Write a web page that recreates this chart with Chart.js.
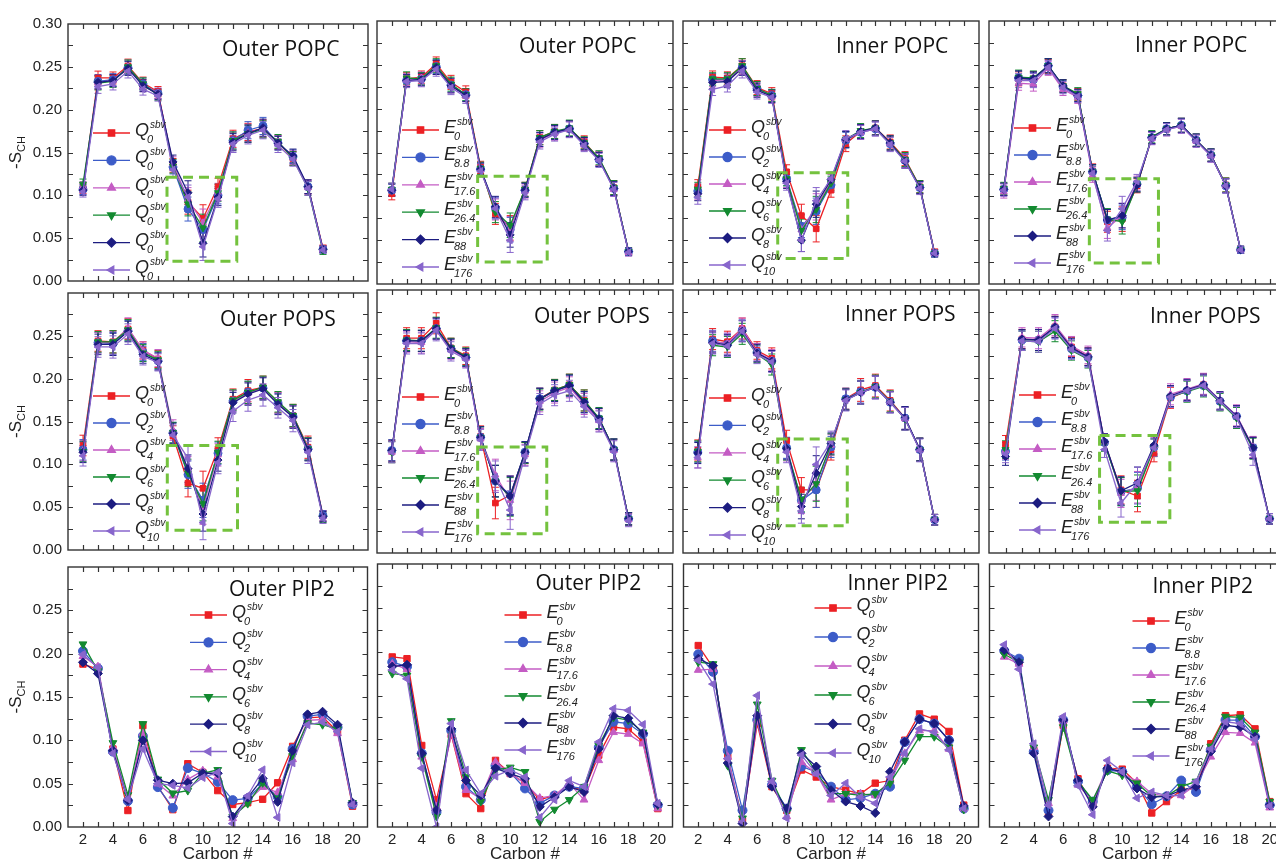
<!DOCTYPE html>
<html>
<head>
<meta charset="utf-8">
<title>Order parameters</title>
<script src="https://cdn.jsdelivr.net/npm/chart.js@4.4.1/dist/chart.umd.min.js"></script>
<style>
  html, body { margin: 0; padding: 0; background: #fff; }
  #wrap { position: relative; width: 1276px; height: 864px; overflow: hidden; background: #fff; }
  #wrap canvas { position: absolute; }
</style>
</head>
<body>
<div id="wrap"></div>
<script>
// x values (carbon numbers)
const carbonsPO = [2, 3, 4, 5, 6, 7, 8, 9, 10, 11, 12, 13, 14, 15, 16, 17, 18];
const carbonsPIP2 = [2, 3, 4, 5, 6, 7, 8, 9, 10, 11, 12, 13, 14, 15, 16, 17, 18, 19, 20];
const xTickMarks = [2, 3, 4, 5, 6, 7, 8, 9, 10, 11, 12, 13, 14, 15, 16, 17, 18, 19, 20];
const yTickMarks = [0.025, 0.05, 0.075, 0.1, 0.125, 0.15, 0.175, 0.2, 0.225, 0.25, 0.275];

// legend subscripts
const subsQFirst = ['0', '0', '0', '0', '0', '0'];   // the first panel labels all six like this
const subsQ = ['0', '2', '4', '6', '8', '10'];
const subsE = ['0', '8.8', '17.6', '26.4', '88', '176'];

// -S_CH, one row per series: red, blue, magenta, green, navy, purple
const outerPopcQ = [
  [.108, .237, .237, .251, .231, .221, .135, .092, .073, .110, .166, .174, .178, .162, .143, .110, .038],
  [.107, .233, .235, .249, .230, .219, .133, .084, .060, .100, .164, .176, .181, .161, .145, .110, .037],
  [.110, .232, .234, .250, .228, .219, .137, .095, .068, .104, .163, .173, .178, .162, .144, .109, .037],
  [.113, .231, .233, .250, .230, .217, .134, .090, .062, .103, .164, .172, .177, .163, .143, .108, .035],
  [.106, .232, .234, .248, .228, .218, .139, .103, .044, .098, .162, .172, .179, .161, .146, .110, .037],
  [.104, .227, .230, .245, .224, .216, .130, .098, .040, .096, .160, .170, .176, .158, .142, .108, .036]
];
const outerPopcQErr = [.006, .008, .007, .008, .007, .006, .008, .014, .016, .010, .010, .010, .010, .008, .008, .008, .004];

const outerPopcE = [
  [.103, .234, .236, .251, .230, .219, .133, .080, .064, .108, .167, .174, .177, .162, .143, .110, .037],
  [.107, .232, .234, .248, .227, .216, .131, .087, .062, .107, .165, .173, .177, .160, .142, .109, .037],
  [.108, .233, .235, .247, .226, .215, .130, .085, .063, .106, .164, .172, .176, .159, .143, .108, .036],
  [.108, .235, .234, .249, .228, .216, .132, .082, .067, .108, .167, .174, .178, .161, .144, .110, .037],
  [.107, .232, .233, .247, .226, .215, .131, .088, .056, .107, .165, .173, .177, .160, .142, .109, .037],
  [.108, .231, .232, .245, .224, .213, .129, .086, .050, .104, .162, .171, .176, .158, .141, .108, .036]
];
const outerPopcEErr = [.007, .007, .007, .008, .008, .007, .007, .012, .014, .008, .008, .008, .009, .007, .008, .008, .004];

const innerPopcQ = [
  [.111, .236, .235, .249, .224, .217, .128, .078, .063, .107, .160, .174, .178, .162, .143, .111, .036],
  [.106, .233, .233, .247, .223, .215, .120, .066, .083, .113, .164, .173, .177, .160, .141, .110, .035],
  [.104, .232, .233, .247, .222, .214, .118, .062, .088, .117, .165, .173, .177, .160, .141, .110, .035],
  [.108, .234, .234, .249, .223, .215, .120, .061, .085, .115, .165, .175, .178, .161, .142, .111, .035],
  [.103, .230, .231, .246, .221, .214, .117, .050, .091, .119, .165, .174, .178, .161, .140, .110, .035],
  [.099, .222, .226, .243, .219, .213, .115, .050, .095, .120, .166, .173, .177, .159, .140, .109, .035]
];
const innerPopcQErr = [.008, .007, .007, .008, .008, .007, .008, .013, .015, .008, .009, .008, .008, .008, .008, .007, .004];

const innerPopcE = [
  [.108, .234, .234, .248, .226, .216, .129, .071, .074, .112, .167, .177, .181, .164, .147, .113, .039],
  [.108, .235, .233, .249, .225, .215, .128, .073, .076, .114, .167, .177, .181, .164, .147, .112, .039],
  [.105, .229, .228, .246, .222, .213, .124, .064, .078, .115, .166, .176, .180, .163, .146, .112, .039],
  [.109, .236, .235, .249, .226, .217, .128, .074, .071, .113, .168, .177, .181, .164, .147, .113, .039],
  [.108, .235, .234, .249, .226, .215, .128, .073, .078, .113, .167, .177, .181, .164, .147, .112, .039],
  [.107, .232, .232, .247, .224, .214, .126, .061, .086, .117, .166, .176, .180, .163, .146, .112, .039]
];
const innerPopcEErr = [.007, .008, .008, .008, .007, .007, .008, .012, .014, .008, .007, .007, .008, .007, .007, .008, .004];

const outerPopsQ = [
  [.122, .244, .243, .258, .233, .223, .133, .078, .072, .118, .176, .186, .190, .172, .157, .120, .040],
  [.117, .242, .241, .256, .231, .221, .137, .088, .058, .113, .174, .184, .189, .171, .156, .118, .040],
  [.116, .242, .242, .259, .233, .224, .140, .093, .050, .111, .174, .183, .189, .172, .156, .118, .039],
  [.115, .243, .243, .257, .230, .222, .137, .090, .054, .114, .175, .184, .190, .173, .157, .118, .038],
  [.114, .240, .240, .255, .228, .220, .136, .095, .042, .105, .172, .182, .188, .170, .155, .117, .039],
  [.110, .237, .237, .252, .226, .219, .134, .107, .032, .102, .162, .175, .181, .166, .151, .114, .037]
];
const outerPopsQErr = [.012, .012, .013, .012, .010, .010, .012, .016, .020, .013, .012, .013, .013, .012, .013, .013, .006];

const outerPopsE = [
  [.116, .245, .245, .262, .234, .225, .133, .057, .066, .114, .176, .186, .192, .174, .153, .118, .039],
  [.117, .242, .242, .256, .233, .223, .132, .082, .066, .115, .176, .185, .191, .172, .153, .118, .039],
  [.115, .241, .240, .256, .232, .222, .130, .089, .060, .112, .173, .183, .189, .170, .151, .117, .038],
  [.115, .243, .242, .257, .234, .224, .132, .082, .064, .114, .175, .186, .192, .174, .154, .118, .039],
  [.117, .242, .242, .256, .233, .223, .132, .082, .065, .115, .176, .185, .191, .172, .153, .118, .039],
  [.115, .239, .239, .254, .230, .221, .129, .087, .049, .111, .170, .180, .185, .167, .150, .116, .037]
];
const outerPopsEErr = [.012, .012, .012, .012, .011, .010, .012, .018, .022, .012, .012, .012, .012, .012, .012, .012, .007];

const innerPopsQ = [
  [.117, .244, .241, .256, .231, .222, .128, .072, .072, .118, .176, .186, .191, .174, .154, .118, .038],
  [.115, .242, .238, .254, .229, .219, .120, .060, .072, .121, .176, .184, .189, .172, .154, .118, .038],
  [.109, .241, .239, .256, .229, .220, .117, .059, .080, .123, .175, .183, .189, .172, .153, .118, .038],
  [.116, .237, .235, .250, .227, .215, .118, .061, .079, .124, .175, .183, .190, .173, .153, .118, .038],
  [.114, .240, .237, .253, .228, .219, .119, .053, .091, .125, .175, .183, .189, .172, .154, .118, .038],
  [.109, .239, .236, .253, .226, .218, .115, .048, .101, .127, .174, .183, .189, .172, .153, .117, .038]
];
const innerPopsQErr = [.012, .012, .012, .012, .010, .012, .012, .014, .020, .012, .012, .013, .013, .012, .013, .013, .006];

const innerPopsE = [
  [.124, .244, .243, .258, .235, .224, .126, .072, .065, .114, .177, .185, .192, .173, .156, .120, .039],
  [.116, .243, .243, .257, .233, .223, .126, .070, .074, .121, .178, .185, .191, .173, .156, .120, .039],
  [.117, .246, .245, .260, .236, .226, .127, .068, .075, .122, .181, .187, .193, .174, .157, .121, .039],
  [.118, .242, .241, .253, .231, .221, .125, .070, .071, .120, .178, .184, .190, .172, .154, .119, .039],
  [.110, .244, .243, .258, .234, .224, .127, .071, .080, .123, .179, .186, .192, .174, .156, .120, .039],
  [.113, .242, .241, .256, .232, .222, .118, .057, .080, .120, .178, .185, .191, .173, .155, .112, .039]
];
const innerPopsEErr = [.010, .011, .012, .012, .011, .010, .009, .016, .018, .010, .012, .012, .012, .010, .012, .012, .006];

const outerPip2Q = [
  [.188, .182, .090, .019, .117, .047, .020, .073, .063, .042, .026, .028, .032, .051, .093, .126, .127, .110, .024],
  [.203, .183, .087, .030, .105, .046, .022, .068, .062, .052, .031, .033, .050, .035, .090, .128, .130, .115, .026],
  [.197, .185, .092, .033, .108, .050, .036, .055, .065, .058, .010, .030, .046, .040, .078, .123, .124, .108, .027],
  [.211, .180, .097, .037, .119, .055, .039, .042, .062, .066, .012, .027, .051, .033, .082, .120, .118, .113, .028],
  [.190, .177, .088, .031, .100, .054, .050, .051, .062, .062, .012, .034, .056, .029, .088, .130, .133, .118, .028],
  [.199, .184, .085, .032, .090, .050, .048, .045, .057, .063, .004, .036, .066, .011, .074, .118, .121, .110, .026]
];

const outerPip2E = [
  [.194, .192, .093, .031, .105, .038, .021, .076, .061, .050, .031, .036, .046, .042, .082, .114, .112, .097, .021],
  [.188, .183, .084, .017, .110, .046, .031, .070, .062, .044, .027, .036, .046, .044, .091, .120, .118, .106, .025],
  [.186, .180, .080, .023, .106, .042, .033, .074, .061, .050, .033, .036, .050, .031, .076, .108, .106, .095, .021],
  [.175, .173, .080, .012, .121, .057, .029, .065, .068, .063, .006, .020, .031, .046, .093, .125, .122, .108, .025],
  [.183, .185, .084, .019, .112, .053, .036, .067, .061, .055, .023, .034, .046, .040, .089, .127, .124, .107, .026],
  [.179, .169, .067, .000, .118, .065, .038, .058, .065, .057, .011, .031, .053, .046, .097, .135, .133, .117, .027]
];

const innerPip2Q = [
  [.207, .182, .080, .008, .118, .046, .019, .065, .057, .046, .042, .038, .050, .053, .099, .129, .123, .109, .025],
  [.197, .177, .087, .019, .122, .048, .021, .069, .063, .046, .031, .033, .038, .046, .097, .123, .118, .099, .021],
  [.179, .180, .080, .006, .122, .050, .012, .074, .061, .031, .038, .038, .036, .053, .084, .110, .110, .089, .021],
  [.188, .186, .070, .010, .140, .053, .017, .088, .063, .038, .038, .036, .038, .050, .076, .103, .103, .091, .020],
  [.192, .184, .073, .004, .127, .046, .021, .084, .069, .042, .029, .024, .016, .063, .097, .123, .118, .099, .024],
  [.190, .163, .078, .006, .150, .052, .010, .082, .061, .036, .050, .034, .027, .057, .084, .112, .108, .088, .021]
];

const innerPip2E = [
  [.201, .188, .088, .016, .116, .055, .025, .067, .066, .050, .016, .029, .042, .044, .095, .127, .128, .112, .029],
  [.201, .192, .086, .019, .122, .052, .029, .065, .063, .046, .026, .035, .053, .040, .088, .122, .122, .103, .025],
  [.194, .186, .091, .027, .122, .048, .029, .069, .061, .052, .038, .035, .036, .048, .080, .108, .107, .096, .022],
  [.197, .188, .091, .031, .114, .052, .031, .064, .059, .050, .035, .035, .046, .052, .092, .126, .125, .108, .029],
  [.202, .188, .084, .012, .122, .053, .023, .067, .063, .044, .034, .035, .042, .046, .086, .116, .114, .103, .025],
  [.208, .180, .095, .025, .126, .047, .014, .076, .063, .033, .040, .036, .036, .052, .089, .120, .118, .100, .024]
];

// green dashed boxes [x0, x1, y0, y1] in data units
const boxOuterPopcQ = [7.6, 12.25, 0.023, 0.121];
const boxOuterPopcE = [7.8, 12.5, 0.025, 0.123];
const boxInnerPopcQ = [7.4, 12.13, 0.029, 0.127];
const boxInnerPopcE = [7.78, 12.45, 0.024, 0.120];
const boxOuterPopsQ = [7.62, 12.3, 0.023, 0.122];
const boxOuterPopsE = [7.8, 12.47, 0.022, 0.121];
const boxInnerPopsQ = [7.4, 12.1, 0.031, 0.130];
const boxInnerPopsE = [7.7, 11.96, 0.035, 0.134];

// styles
const FONT = '"Liberation Sans", Arial, sans-serif';
const TITLE_FONT = '"Open Sans", "Noto Sans", sans-serif';
const colors = ['#ec2024', '#3c5cc8', '#c45cc4', '#138a30', '#1c1c80', '#8866cc'];
const markers = [['rect', 0], ['circle', 0], ['triangle', 0], ['triangle', 180], ['rectRot', 0], ['triangle', 270]];

// plot-area layout in page pixels
const rowTop = [21, 290, 564];
const plotH = 263;
const colLeft = [68, 375, 681, 987];
const colW = [302, 300, 300, 300];

const panels = [
  {row: 0, col: 0, title: 'Outer POPC', vals: outerPopcQ, err: outerPopcQErr, letter: 'Q', subs: subsQFirst, box: boxOuterPopcQ, tDx: 154, tDy: 32, lDx: 25, lDy: 109, lSp: 27.4},
  {row: 0, col: 1, title: 'Outer POPC', vals: outerPopcE, err: outerPopcEErr, letter: 'E', subs: subsE, box: boxOuterPopcE, tDx: 142, tDy: 32, lDx: 25, lDy: 109, lSp: 27.4},
  {row: 0, col: 2, title: 'Inner POPC', vals: innerPopcQ, err: innerPopcQErr, letter: 'Q', subs: subsQ, box: boxInnerPopcQ, tDx: 153, tDy: 32, lDx: 26, lDy: 109, lSp: 27},
  {row: 0, col: 3, title: 'Inner POPC', vals: innerPopcE, err: innerPopcEErr, letter: 'E', subs: subsE, box: boxInnerPopcE, tDx: 146, tDy: 31, lDx: 25, lDy: 107, lSp: 27},
  {row: 1, col: 0, title: 'Outer POPS', vals: outerPopsQ, err: outerPopsQErr, letter: 'Q', subs: subsQ, box: boxOuterPopsQ, tDx: 152, tDy: 33, lDx: 25, lDy: 103, lSp: 27},
  {row: 1, col: 1, title: 'Outer POPS', vals: outerPopsE, err: outerPopsEErr, letter: 'E', subs: subsE, box: boxOuterPopsE, tDx: 157, tDy: 33, lDx: 25, lDy: 107, lSp: 27},
  {row: 1, col: 2, title: 'Inner POPS', vals: innerPopsQ, err: innerPopsQErr, letter: 'Q', subs: subsQ, box: boxInnerPopsQ, tDx: 162, tDy: 31, lDx: 26, lDy: 108, lSp: 27.4},
  {row: 1, col: 3, width: 334, title: 'Inner POPS', vals: innerPopsE, err: innerPopsEErr, letter: 'E', subs: subsE, box: boxInnerPopsE, tDx: 161, tDy: 33, lDx: 30, lDy: 105, lSp: 27},
  {row: 2, col: 0, title: 'Outer PIP2', vals: outerPip2Q, letter: 'Q', subs: subsQ, tDx: 161, tDy: 29, lDx: 122, lDy: 48, lSp: 27.3},
  {row: 2, col: 1, title: 'Outer PIP2', vals: outerPip2E, letter: 'E', subs: subsE, tDx: 158, tDy: 26, lDx: 127, lDy: 51, lSp: 27},
  {row: 2, col: 2, title: 'Inner PIP2', vals: innerPip2Q, letter: 'Q', subs: subsQ, tDx: 164, tDy: 26, lDx: 131, lDy: 44, lSp: 29},
  {row: 2, col: 3, title: 'Inner PIP2', vals: innerPip2E, letter: 'E', subs: subsE, tDx: 163, tDy: 29, lDx: 143, lDy: 57, lSp: 27}
];

const wrap = document.getElementById('wrap');

function marker(ctx, i, x, y, r) {
  const opts = {pointStyle: markers[i][0], rotation: markers[i][1], radius: r, borderWidth: 1};
  if (Chart.helpers && Chart.helpers.drawPoint) {
    Chart.helpers.drawPoint(ctx, opts, x, y);
  } else {
    ctx.beginPath(); ctx.arc(x, y, r, 0, Math.PI * 2); ctx.fill(); ctx.stroke();
  }
}

// error bars, dashed box, frame with inward ticks, title, legend
function decoPlugin(p) {
  return {
    id: 'deco',
    beforeDatasetsDraw(chart) {
      if (!p.err) return;
      const {ctx, scales: {x, y}} = chart;
      ctx.save();
      ctx.lineWidth = 1;
      chart.data.datasets.forEach(ds => {
        ctx.strokeStyle = ds.borderColor;
        ctx.beginPath();
        ds.data.forEach((pt, j) => {
          const px = x.getPixelForValue(pt.x);
          const top = y.getPixelForValue(pt.y + p.err[j]);
          const bot = y.getPixelForValue(pt.y - p.err[j]);
          ctx.moveTo(px, top); ctx.lineTo(px, bot);
          ctx.moveTo(px - 3.5, top); ctx.lineTo(px + 3.5, top);
          ctx.moveTo(px - 3.5, bot); ctx.lineTo(px + 3.5, bot);
        });
        ctx.stroke();
      });
      ctx.restore();
    },
    afterDatasetsDraw(chart) {
      if (!p.box) return;
      const {ctx, scales: {x, y}} = chart;
      const [x0, x1, y0, y1] = p.box;
      const l = x.getPixelForValue(x0), r = x.getPixelForValue(x1);
      const t = y.getPixelForValue(y1), b = y.getPixelForValue(y0);
      ctx.save();
      ctx.setLineDash([10, 6]);
      ctx.lineWidth = 3;
      ctx.strokeStyle = '#74c23e';
      ctx.strokeRect(l, t, r - l, b - t);
      ctx.restore();
    },
    afterDraw(chart) {
      const {ctx, chartArea: a, scales: {x, y}} = chart;
      ctx.save();
      // frame
      ctx.strokeStyle = '#333';
      ctx.lineWidth = 1.4;
      ctx.strokeRect(a.left, a.top, a.right - a.left, a.bottom - a.top);
      // inward ticks on all sides
      ctx.lineWidth = 1.2;
      ctx.beginPath();
      xTickMarks.forEach(v => {
        const px = Math.round(x.getPixelForValue(v)) + 0.5;
        ctx.moveTo(px, a.bottom); ctx.lineTo(px, a.bottom - 5);
        ctx.moveTo(px, a.top); ctx.lineTo(px, a.top + 5);
      });
      yTickMarks.forEach(v => {
        const py = Math.round(y.getPixelForValue(v)) + 0.5;
        ctx.moveTo(a.left, py); ctx.lineTo(a.left + 5, py);
        ctx.moveTo(a.right, py); ctx.lineTo(a.right - 5, py);
      });
      ctx.stroke();

      // panel title
      ctx.fillStyle = '#111';
      ctx.font = '21px ' + TITLE_FONT;
      ctx.textAlign = 'left';
      ctx.textBaseline = 'alphabetic';
      ctx.fillText(p.title, a.left + p.tDx, a.top + p.tDy);

      // legend
      p.subs.forEach((s, i) => {
        const lx = a.left + p.lDx;
        const ly = a.top + p.lDy + i * p.lSp;
        ctx.strokeStyle = colors[i];
        ctx.fillStyle = colors[i];
        ctx.lineWidth = 1.3;
        ctx.beginPath(); ctx.moveTo(lx, ly); ctx.lineTo(lx + 37, ly); ctx.stroke();
        marker(ctx, i, lx + 18.5, ly, 4.5);
        const tx = lx + 42;
        ctx.fillStyle = '#222';
        ctx.font = 'italic 18px ' + FONT;
        ctx.fillText(p.letter, tx, ly + 3);
        const w = ctx.measureText(p.letter).width;
        ctx.font = 'italic 10px ' + FONT;
        ctx.fillText('sbv', tx + w + 1, ly - 5);
        ctx.font = 'italic 11px ' + FONT;
        ctx.fillText(s, tx + w - 2, ly + 10);
      });

      // y axis title -S_CH
      if (p.col === 0) {
        ctx.translate(16, (a.top + a.bottom) / 2);
        ctx.rotate(-Math.PI / 2);
        ctx.fillStyle = '#222';
        ctx.font = '17px ' + FONT;
        const w1 = ctx.measureText('-S').width;
        ctx.font = '11px ' + FONT;
        const w2 = ctx.measureText('CH').width;
        const start = -(w1 + w2) / 2;
        ctx.font = '17px ' + FONT;
        ctx.fillText('-S', start, 5);
        ctx.font = '11px ' + FONT;
        ctx.fillText('CH', start + w1, 9);
      }
      ctx.restore();
    }
  };
}

function makePanel(p) {
  const leftCol = p.col === 0;
  const bottomRow = p.row === 2;
  const w = p.width || colW[p.col];
  const L = leftCol ? 68 : 3, T = 12, R = 3, B = bottomRow ? 40 : 12;

  const cv = document.createElement('canvas');
  cv.width = L + w + R;
  cv.height = T + plotH + B;
  cv.style.left = (colLeft[p.col] - L) + 'px';
  cv.style.top = (rowTop[p.row] - T) + 'px';
  wrap.appendChild(cv);

  const xs = p.vals[0].length === carbonsPIP2.length ? carbonsPIP2 : carbonsPO;
  const datasets = p.vals.map((v, i) => ({
    data: v.map((val, j) => ({x: xs[j], y: val})),
    borderColor: colors[i],
    backgroundColor: colors[i],
    borderWidth: 1.3,
    pointStyle: markers[i][0],
    pointRotation: markers[i][1],
    pointRadius: bottomRow ? 4.5 : 4,
    pointBorderWidth: 1,
    order: 6 - i
  }));

  const xScale = {
    type: 'linear', min: 1, max: 21, display: bottomRow,
    grid: {display: false, drawTicks: false},
    border: {display: false},
    ticks: {
      stepSize: 1, autoSkip: false, maxRotation: 0, padding: 4, color: '#222',
      font: {family: FONT, size: 15},
      callback: v => (v % 2 === 0 ? String(v) : '')
    },
    title: {display: true, text: 'Carbon #', color: '#222', font: {family: FONT, size: 17}, padding: {top: 0, bottom: 2}}
  };
  if (bottomRow) xScale.afterFit = s => { s.height = B; };

  const yScale = {
    min: 0, max: 0.3, display: leftCol,
    grid: {display: false, drawTicks: false},
    border: {display: false},
    ticks: {
      stepSize: 0.05, padding: 6, color: '#222',
      font: {family: FONT, size: 15},
      callback: v => (p.row > 0 && v > 0.29 ? '' : v.toFixed(2))
    }
  };
  if (leftCol) yScale.afterFit = s => { s.width = L; };

  new Chart(cv, {
    type: 'line',
    data: {datasets: datasets},
    options: {
      responsive: false,
      animation: false,
      devicePixelRatio: 1,
      layout: {padding: {left: leftCol ? 0 : L, top: T, right: R, bottom: bottomRow ? 0 : B}},
      plugins: {legend: {display: false}, tooltip: {enabled: false}},
      scales: {x: xScale, y: yScale}
    },
    plugins: [decoPlugin(p)]
  });
}

panels.forEach(makePanel);
</script>
</body>
</html>
